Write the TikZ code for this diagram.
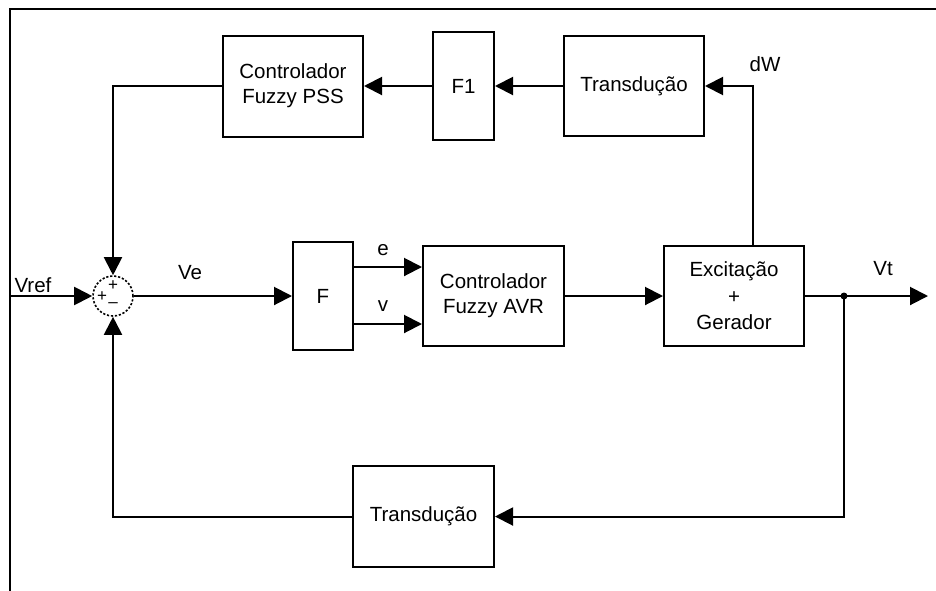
\documentclass[tikz,border=0pt]{standalone}
\usepackage{fontspec}
\setmainfont{Liberation Sans}
\usetikzlibrary{arrows.meta,calc}
\newcommand\lblfont{\fontsize{20.5}{25}\selectfont}
\newcommand\signfont{\fontsize{17}{17}\selectfont}
\tikzset{
  blk/.style={draw, line width=2pt, rectangle, inner sep=0pt, align=center, font=\lblfont},
  wire/.style={line width=2pt},
  arr/.style={wire, -{Triangle[length=18pt,width=18pt]}},
  lbl/.style={font=\lblfont, inner sep=0pt},
  sgn/.style={font=\signfont, inner sep=0pt}
}
\begin{document}
\begin{tikzpicture}[x=1pt,y=-1pt]
  \useasboundingbox (0,0) rectangle (936,590);
  % outer frame
  \draw[line width=2.6pt] (10,592) -- (10,9) -- (938,9);

  % blocks
  \node[blk, minimum width=140pt, minimum height=101pt] (pss) at (293,86) {Controlador\\Fuzzy PSS};
  \node[blk, minimum width=61pt,  minimum height=108pt] (f1)  at (463.5,86) {F1};
  \node[blk, minimum width=140pt, minimum height=100pt] (tdu) at (634,86) {Transdução};
  \node[draw, circle, line width=1.6pt, dash pattern=on 2.2pt off 1.8pt, minimum size=40pt, inner sep=0pt] (sum) at (113,296) {};
  \node[blk, minimum width=60pt,  minimum height=108pt] (F)   at (323,296) {F};
  \node[blk, minimum width=141pt, minimum height=100pt] (avr) at (493.5,296) {Controlador\\Fuzzy AVR};
  \node[blk, minimum width=140pt, minimum height=100pt, font=\fontsize{20.5}{26.5}\selectfont] (exc) at (734,296) {Excitação\\+\\Gerador};
  \node[blk, minimum width=141pt, minimum height=101pt] (tdl) at (423.5,516.5) {Transdução};

  % signs of the summing junction
  \node[sgn] (sp1) at (113,286) {+};
  \node[sgn] (sp2) at (102,296.5) {+};
  \node[sgn] (sm)  at (113,305) {–};

  % free ends
  \coordinate (vin)  at (10,296);
  \coordinate (jn)   at (844,296);
  \coordinate (vout) at (928,296);
  \coordinate (dwp)  at (753,246);

  % connectors
  \draw[arr] (vin) -- (sum.west);
  \draw[arr] (sum.east) -- (F.west);
  \draw[arr] ($(F.east)+(0,-29)$) -- ($(avr.west)+(0,-29)$);
  \draw[arr] ($(F.east)+(0,28)$) -- ($(avr.west)+(0,28)$);
  \draw[arr] (avr.east) -- (exc.west);
  \draw[wire] (exc.east) -- (jn);
  \draw[arr] (jn) -- (vout);
  \fill (jn) circle (3.5pt);
  \draw[arr] (jn) |- (tdl.east);
  \draw[arr] (tdl.west) -| (sum.south);
  \draw[arr] (dwp) |- (tdu.east);
  \draw[arr] (tdu.west) -- (f1.east);
  \draw[arr] (f1.west) -- (pss.east);
  \draw[arr] (pss.west) -| (sum.north);

  % signal labels
  \node[lbl] (lvref) at (33,285) {Vref};
  \node[lbl] (lve)   at (190,273) {Ve};
  \node[lbl] (le)    at (383,250) {e};
  \node[lbl] (lv)    at (383,306) {v};
  \node[lbl] (ldw)   at (765,64) {dW};
  \node[lbl] (lvt)   at (883,269) {Vt};
\end{tikzpicture}
\end{document}
